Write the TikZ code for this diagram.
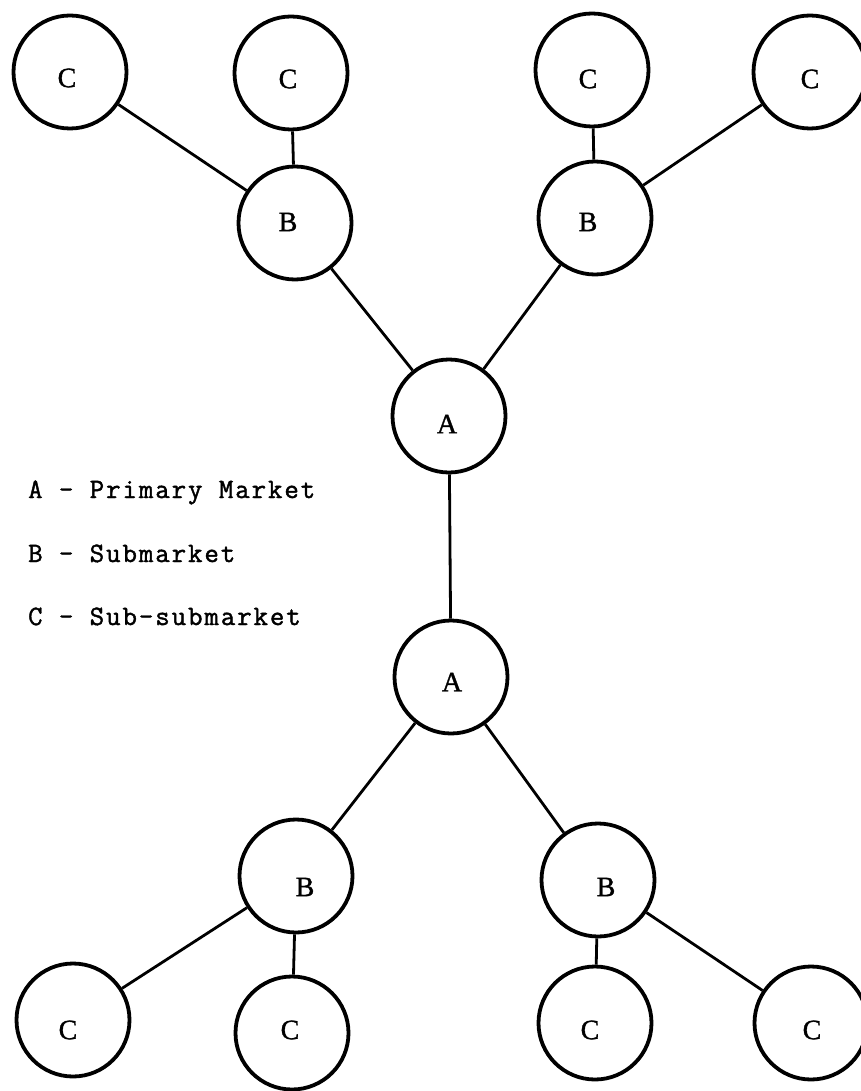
\documentclass[tikz,border=0pt]{standalone}
\usepackage{fontspec}
\newfontfamily\labelfont{Liberation Serif}[FakeBold=1.2]
\newfontfamily\legendfont{Latin Modern Mono}[LetterSpace=7,FakeBold=1.5]
\begin{document}
\begin{tikzpicture}[x=1pt,y=-1pt,
  market/.style={circle,draw,line width=3.8pt,minimum size=113pt,inner sep=0pt},
  tag/.style={inner sep=0pt,font=\labelfont\fontsize{28}{28}\selectfont},
  link/.style={line width=2.8pt},
  legend/.style={anchor=base west,inner sep=0pt,font=\legendfont\fontsize{28}{28}\selectfont}]
\useasboundingbox (0,0) rectangle (860,1091);

% upper tree: circles
\node[market] (c1) at (70,72) {};
\node[market] (c2) at (291,73) {};
\node[market] (c3) at (592,70) {};
\node[market] (c4) at (810,72) {};
\node[market] (b1) at (295,223) {};
\node[market] (b2) at (595,218) {};
\node[market] (a1) at (449,416) {};

% lower tree: circles
\node[market] (a2) at (451,677) {};
\node[market] (b3) at (296,876) {};
\node[market] (b4) at (598,880) {};
\node[market] (c5) at (73,1020) {};
\node[market] (c6) at (292,1033) {};
\node[market] (c7) at (595,1023) {};
\node[market] (c8) at (811,1023) {};

% letters inside the circles
\node[tag] (tc1) at (67,78) {C};
\node[tag] (tc2) at (288,79) {C};
\node[tag] (tc3) at (588,79) {C};
\node[tag] (tc4) at (810,79) {C};
\node[tag] (tb1) at (288,222) {B};
\node[tag] (tb2) at (588,222) {B};
\node[tag] (ta1) at (447,424) {A};
\node[tag] (ta2) at (452,682) {A};
\node[tag] (tb3) at (305,887) {B};
\node[tag] (tb4) at (606,887) {B};
\node[tag] (tc5) at (68,1030) {C};
\node[tag] (tc6) at (290,1030) {C};
\node[tag] (tc7) at (590,1030) {C};
\node[tag] (tc8) at (812,1030) {C};

% connectors
\draw[link] (c1) -- (b1);
\draw[link] (c2) -- (b1);
\draw[link] (c3) -- (b2);
\draw[link] (c4) -- (b2);
\draw[link] (b1) -- (a1);
\draw[link] (b2) -- (a1);
\draw[link] (a1) -- (a2);
\draw[link] (a2) -- (b3);
\draw[link] (a2) -- (b4);
\draw[link] (b3) -- (c5);
\draw[link] (b3) -- (c6);
\draw[link] (b4) -- (c7);
\draw[link] (b4) -- (c8);

% key
\node[legend] (k1) at (28,498) {A - Primary Market};
\node[legend] (k2) at (28,562) {B - Submarket};
\node[legend] (k3) at (28,625) {C - Sub-submarket};
\end{tikzpicture}
\end{document}
